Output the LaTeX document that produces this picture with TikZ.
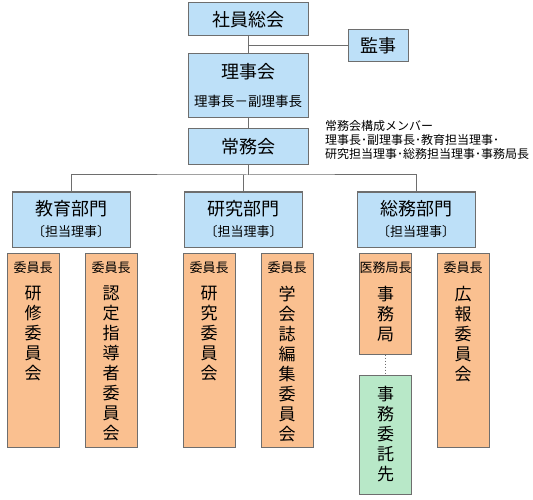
\documentclass[tikz,border=0pt]{standalone}
\usepackage{fontspec}
\setmainfont{Noto Sans CJK JP}
\usetikzlibrary{positioning}
\definecolor{boxblue}{RGB}{189,224,248}
\definecolor{boxorange}{RGB}{250,192,144}
\definecolor{boxgreen}{RGB}{184,232,200}
\definecolor{edge}{RGB}{110,110,110}

\begin{document}
\begin{tikzpicture}[x=1pt,y=-1pt,
  b/.style={draw=edge,line width=1pt,fill=boxblue,align=center,inner sep=0pt,minimum width=120pt,font=\fontsize{18}{20}\selectfont},
  c/.style={draw=edge,line width=1pt,fill=boxorange,inner sep=0pt,minimum width=52pt,minimum height=194pt},
  head/.style={font=\fontsize{13}{14}\selectfont,inner sep=0pt},
  vt/.style={font=\fontsize{17}{20}\selectfont,align=center,inner sep=0pt},
  ln/.style={draw=edge,line width=1pt}]
\useasboundingbox (0,0) rectangle (533,500);
% top of the tree
\node[b,minimum height=33pt] (shain) at (248,19.5) {社員総会};
\node[b,minimum width=60pt,minimum height=32pt] (kanji) at (378,46) {監事};
\node[b,minimum height=64pt] (riji) at (248,86) {理事会\\[8pt]{\fontsize{13.5}{14}\selectfont 理事長－副理事長}};
\node[b,minimum height=36pt] (jomu) at (248,147) {常務会};
\node[anchor=north west,align=left,inner sep=0pt,font=\fontsize{12}{14}\selectfont] (memo) at (325,120)
  {常務会構成メンバー\\理事長･副理事長･教育担当理事･\\研究担当理事･総務担当理事･事務局長};
\draw[ln] (shain) -- (riji) -- (jomu);
\draw[ln] (kanji.west) -- (kanji.west -| shain.south);
% departments
\node[b,minimum width=118pt,minimum height=55pt] (kyoiku) at (71,219.5) {教育部門\\[1pt]{\fontsize{13}{14}\selectfont 〔担当理事〕}};
\node[b,minimum width=118pt,minimum height=55pt] (kenkyu) at (243.5,219.5) {研究部門\\[1pt]{\fontsize{13}{14}\selectfont 〔担当理事〕}};
\node[b,minimum width=118pt,minimum height=55pt] (somu) at (416,219.5) {総務部門\\[1pt]{\fontsize{13}{14}\selectfont 〔担当理事〕}};
\coordinate (bus) at (248,175);
\draw[ln] (jomu) -- (bus);
\draw[ln] (kyoiku.north) |- (bus) -| (somu.north);
\draw[ln] (kenkyu.north) -- (kenkyu.north |- bus);
% committees
\node[c] (kenshu) at (33,350) {};
\node[head,below=9pt of kenshu.north] (kenshuH) {委員長};
\node[vt,below=12pt of kenshuH] (kenshuT) {研\\修\\委\\員\\会};
\node[c] (nintei) at (111,350) {};
\node[head,below=9pt of nintei.north] (ninteiH) {委員長};
\node[vt,below=12pt of ninteiH] (ninteiT) {認\\定\\指\\導\\者\\委\\員\\会};
\node[c] (kenkyuI) at (209,350) {};
\node[head,below=9pt of kenkyuI.north] (kenkyuIH) {委員長};
\node[vt,below=12pt of kenkyuIH] (kenkyuIT) {研\\究\\委\\員\\会};
\node[c] (gakkai) at (287,350) {};
\node[head,below=9pt of gakkai.north] (gakkaiH) {委員長};
\node[vt,below=12pt of gakkaiH] (gakkaiT) {学\\会\\誌\\編\\集\\委\\員\\会};
\node[c,minimum height=101pt] (jimu) at (385.5,303.5) {};
\node[head,below=9pt of jimu.north] (jimuH) {医務局長};
\node[vt,below=12pt of jimuH] (jimuT) {事\\務\\局};
\node[c,fill=boxgreen,minimum height=119pt,vt,draw=edge] (itaku) at (385.5,434.5) {事\\務\\委\\託\\先};
\node[c] (koho) at (463,350) {};
\node[head,below=9pt of koho.north] (kohoH) {委員長};
\node[vt,below=12pt of kohoH] (kohoT) {広\\報\\委\\員\\会};
\draw[edge,line width=1pt,dotted] (jimu) -- (itaku);
\end{tikzpicture}
\end{document}
